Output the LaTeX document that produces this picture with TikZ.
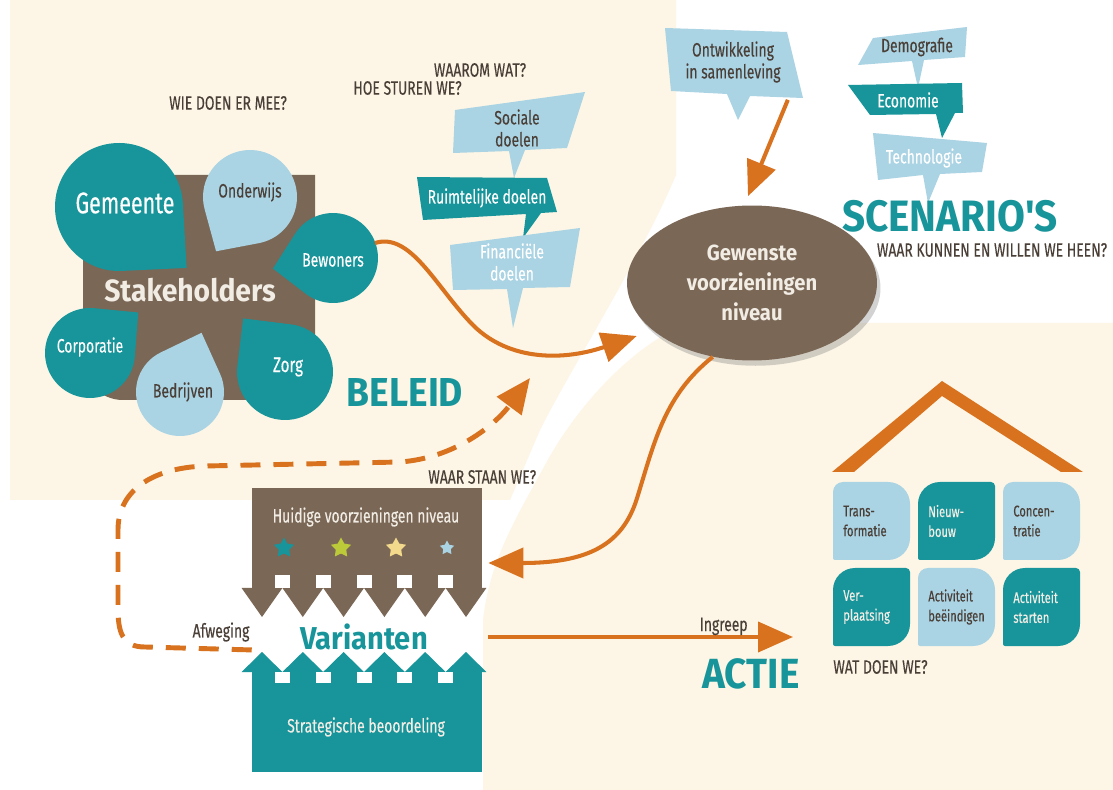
\documentclass[tikz,border=0pt]{standalone}
\usepackage{fontspec}
\setmainfont{Fira Sans}[FakeStretch=0.72, FakeBold=0.3]
\newfontfamily\headfont{Fira Sans}[FakeStretch=0.92]
\usetikzlibrary{arrows.meta,calc,positioning,shapes.geometric,shadows}

\definecolor{vzcream}{HTML}{FDF6E6}
\definecolor{vzteal}{HTML}{17959A}
\definecolor{vzlight}{HTML}{AAD3E3}
\definecolor{vzbrown}{HTML}{7A6756}
\definecolor{vzorange}{HTML}{D8721F}
\definecolor{vztext}{HTML}{4A3F37}
\definecolor{vzpale}{HTML}{F1ECE4}
\definecolor{vzlime}{HTML}{BCCA3A}
\definecolor{vzyellow}{HTML}{F2D98C}

\tikzset{
  question/.style={text=vztext, inner sep=0pt, font=\fontsize{11}{12}\selectfont},
  balloon/.style={align=center, inner sep=0pt, font=\fontsize{11}{12.5}\selectfont},
  droplabel/.style={circle, inner sep=0pt, font=\fontsize{11}{12}\selectfont},
  bigword/.style={text=vzteal, inner sep=0pt, font=\headfont\bfseries\fontsize{23}{23}\selectfont},
  tilelabel/.style={anchor=west, align=left, inner sep=0pt, font=\fontsize{8.8}{11.3}\selectfont},
  boxlabel/.style={text=vzpale, inner sep=0pt, font=\fontsize{11}{12}\selectfont},
  flow/.style={draw=vzorange, line width=2.3pt, -{Triangle[length=0.7cm,width=0.6cm]}},
  flowdash/.style={flow, line width=2.8pt, dash pattern=on 0.4cm off 0.26cm},
  starmark/.style={star, star points=5, star point ratio=1.9, inner sep=0pt, minimum size=0.42cm},
}

% drop: centre, radius, tip angle, tip distance, colour
\newcommand\vzdrop[5]{%
  \pgfmathsetmacro\dropphi{acos(#2/#4)}%
  \fill[#5] (#1) ++(#3+\dropphi:#2) arc[start angle=#3+\dropphi, end angle=#3+360-\dropphi, radius=#2] -- ($(#1)+(#3:#4)$) -- cycle;%
}
% tile: x, y, colour, corner radii tl, tr, br, bl
\newcommand\vztile[7]{%
  \fill[#3] (#1+#4,#2) -- (#1+77-#5,#2) arc[start angle=-90, end angle=0, radius=#5]
    -- (#1+77,#2+78-#6) arc[start angle=0, end angle=90, radius=#6]
    -- (#1+#7,#2+78) arc[start angle=90, end angle=180, radius=#7]
    -- (#1,#2+#4) arc[start angle=180, end angle=270, radius=#4] -- cycle;%
}

\begin{document}
\begin{tikzpicture}[x=0.02cm, y=-0.02cm]
\useasboundingbox (0,0) rectangle (1113,790);

% Drawing background
\fill[white] (0,0) rectangle (1113,790);%
\fill[vzcream] (10,0) -- (676,0) -- (676,175) .. controls (640,260) and (570,370) .. (540,430) -- (510,500) -- (10,500) -- cycle;%
\fill[vzcream] (1113,323) -- (690,323) .. controls (640,340) and (580,400) .. (545,465) .. controls (515,520) and (490,560) .. (483,620) -- (483,790) -- (1113,790) -- cycle;%

% Marking questions
\node[question] (wiedoen) at (228,103) {WIE DOEN ER MEE?};%
\node[question, anchor=east] (hoesturen) at (462,88) {HOE STUREN WE?};%
\node[question] (waarom) at (480,70) {WAAROM WAT?};%
\node[question, anchor=west] (waarstaan) at (428,477) {WAAR STAAN WE?};%
\node[question, anchor=west] (watdoen) at (833,667) {WAT DOEN WE?};%
\node[question] (waarkunnen) at (992,250) {WAAR KUNNEN EN WILLEN WE HEEN?};%

% Drawing stakeholders
\fill[vzbrown] (83,175) -- (315,175) -- (315,350) arc[start angle=0, end angle=90, radius=50] -- (123,400) arc[start angle=90, end angle=180, radius=40] -- cycle;%
\vzdrop{119,207}{64}{42}{91}{vzteal}
\vzdrop{250,197}{47}{122}{64}{vzlight}
\vzdrop{333,258}{45}{170}{61}{vzteal}
\vzdrop{90,353}{45}{320}{63}{vzteal}
\vzdrop{180,392}{44}{290}{63}{vzlight}
\vzdrop{285,372}{48}{232}{68}{vzteal}
\node[text=vzpale, inner sep=0pt, font=\headfont\bfseries\fontsize{17.5}{17.5}\selectfont] (stakeholders) at (190,290) {Stakeholders};%
\node[droplabel, text=white, font=\fontsize{17}{17}\selectfont] (gemeente) at (125,203) {Gemeente};%
\node[droplabel, text=vztext] (onderwijs) at (250,192) {Onderwijs};%
\node[droplabel, text=white, minimum size=1.8cm] (bewoners) at (333,260) {Bewoners};%
\node[droplabel, text=white] (corporatie) at (90,347) {Corporatie};%
\node[droplabel, text=vztext] (bedrijven) at (183,392) {Bedrijven};%
\node[droplabel, text=white, font=\fontsize{12}{12}\selectfont] (zorg) at (288,367) {Zorg};%

% Drawing policy balloons
\fill[vzlight] (455,110) -- (585,92) -- (567,148) -- (525,150) -- (514,178) -- (509,151) -- (453,153) -- cycle;%
\fill[vzteal] (417,177) -- (547,178) -- (557,212) -- (541,213) -- (523,238) -- (526,214) -- (423,220) -- cycle;%
\fill[vzlight] (450,245) -- (580,228) -- (570,287) -- (523,288) -- (513,328) -- (507,289) -- (453,290) -- cycle;%
\node[balloon, text=vztext] (sociale) at (517,128) {Sociale\\doelen};%
\node[balloon, text=white] (ruimtelijke) at (487,198) {Ruimtelijke doelen};%
\node[balloon, text=white] (financiele) at (512,262) {Financiële\\doelen};%
\node[bigword] (beleid) at (405,392) {BELEID};%

% Drawing scenario balloons
\fill[vzlight] (665,28) -- (787,32) -- (803,98) -- (750,96) -- (738,120) -- (727,94) -- (671,91) -- cycle;%
\fill[vzlight] (873,38) -- (967,27) -- (965,57) -- (924,60) -- (918,88) -- (912,61) -- (858,65) -- cycle;%
\fill[vzteal] (848,85) -- (962,83) -- (963,113) -- (955,113) -- (942,138) -- (936,114) -- (870,115) -- cycle;%
\fill[vzlight] (873,133) -- (987,143) -- (982,172) -- (940,174) -- (928,203) -- (923,175) -- (878,180) -- cycle;%
\node[balloon, text=vztext, minimum width=2.5cm, minimum height=1.3cm] (ontwikkeling) at (733,62) {Ontwikkeling\\in samenleving};%
\node[balloon, text=vztext] (demografie) at (917,47) {Demografie};%
\node[balloon, text=white] (economie) at (908,100) {Economie};%
\node[balloon, text=white] (technologie) at (924,158) {Technologie};%
\node[bigword, font=\headfont\bfseries\fontsize{25}{25}\selectfont] (scenarios) at (950,216) {SCENARIO'S};%

% Drawing desired level
\node[ellipse, fill=vzbrown, minimum width=5cm, minimum height=3.1cm, align=center, text=vzpale,
  font=\headfont\bfseries\fontsize{12.5}{17}\selectfont,
  drop shadow={shadow xshift=2pt, shadow yshift=-3pt, opacity=0.35}] (gewenste) at (752,283)
  {Gewenste\\voorzieningen\\niveau};%

% Drawing current level
\fill[vzbrown] (252,488) rectangle (482,588);%
\foreach \t in {0,...,5}
  \fill[vzbrown] (241.6+40.8*\t,588) -- (262+40.8*\t,617) -- (282.4+40.8*\t,588) -- cycle;%
\foreach \t in {0,...,4}
  \fill[white] (275+40.8*\t,575) rectangle (290+40.8*\t,588);%
\node[minimum width=4.6cm, minimum height=2cm, inner sep=0pt] (huidige) at (367,538) {};%
\node[boxlabel] (huidigetekst) at (366,517) {Huidige voorzieningen niveau};%
\node[starmark, fill=vzteal] (ster1) at (284,548) {};%
\node[starmark, fill=vzlime] (ster2) at (341,548) {};%
\node[starmark, fill=vzyellow] (ster3) at (396,548) {};%
\node[starmark, fill=vzlight, minimum size=0.3cm] (ster4) at (447,548) {};%

% Drawing strategic assessment
\fill[vzteal] (252,672) rectangle (482,772);%
\foreach \t in {0,...,5}
  \fill[vzteal] (241.6+40.8*\t,672) -- (262+40.8*\t,652) -- (282.4+40.8*\t,672) -- cycle;%
\foreach \t in {0,...,4}
  \fill[white] (275+40.8*\t,672) rectangle (290+40.8*\t,683);%
\node[boxlabel] (strategisch) at (366,727) {Strategische beoordeling};%
\node[bigword, font=\headfont\bfseries\fontsize{18}{18}\selectfont] (varianten) at (364,637) {Varianten};%
\node[question] (afweging) at (221,632) {Afweging};%

% Drawing action house
\fill[vzorange] (832,472) -- (942,381) -- (1083,472) -- (1061,472) -- (942,396) -- (854,472) -- cycle;%
\vztile{833}{482}{vzlight}{10}{22}{22}{2}
\vztile{918}{482}{vzteal}{22}{4}{22}{2}
\vztile{1003}{482}{vzlight}{10}{22}{22}{2}
\vztile{833}{568}{vzteal}{22}{4}{22}{2}
\vztile{918}{568}{vzlight}{10}{22}{22}{2}
\vztile{1003}{568}{vzteal}{22}{4}{22}{2}
\node[tilelabel, text=vztext] (transformatie) at (843,521) {Trans-\\formatie};%
\node[tilelabel, text=vzpale] (nieuwbouw) at (928,521) {Nieuw-\\bouw};%
\node[tilelabel, text=vztext] (concentratie) at (1013,521) {Concen-\\tratie};%
\node[tilelabel, text=vzpale] (verplaatsing) at (843,607) {Ver-\\plaatsing};%
\node[tilelabel, text=vztext] (beeindigen) at (928,607) {Activiteit\\beëindigen};%
\node[tilelabel, text=vzpale] (starten) at (1013,607) {Activiteit\\starten};%
\node[bigword, font=\headfont\bfseries\fontsize{24}{24}\selectfont] (actie) at (751,674) {ACTIE};%

% Drawing connectors
\coordinate (afwegingdoel) at (530,378);%
\coordinate (ingreepstart) at (488,637);%
\coordinate (ingreepeind) at (793,637);%
\draw[flow] (bewoners.22) .. controls (410,232) and (435,285) .. (470,322) .. controls (505,360) and (560,362) .. ($(gewenste.west)+(10,53)$);%
\draw[flow] ($(ontwikkeling.south east)+(-8,5)$) -- ($(gewenste.north)+(-4,-9)$);%
\draw[flow] (gewenste.242) .. controls (665,395) and (655,440) .. (638,495) .. controls (625,540) and (595,563) .. ($(huidige.east)+(6,25)$);%
\draw[flowdash] ($(afweging.south east)+(2,8)$) -- (145,647) .. controls (122,647) and (118,632) .. (118,608) -- (118,530) .. controls (118,492) and (150,468) .. (205,466) -- (400,462) .. controls (455,458) and (495,425) .. (afwegingdoel);%
\draw[flow] (ingreepstart) -- (ingreepeind);%
\node[question, anchor=base east] (ingreep) at (748,631) {Ingreep};%
\end{tikzpicture}
\end{document}
